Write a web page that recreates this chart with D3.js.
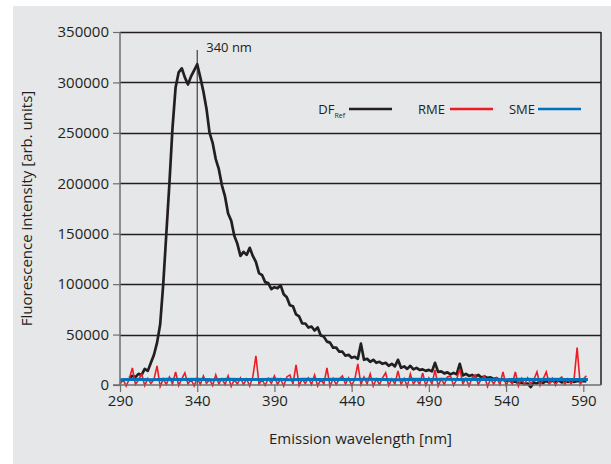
<!DOCTYPE html>
<html>
<head>
<meta charset="utf-8">
<script src="https://cdn.jsdelivr.net/npm/d3@7"></script>
<style>
  html, body { margin: 0; padding: 0; background: #fff; }
  svg text { font-family: "Open Sans", "Noto Sans", sans-serif; fill: #231f20; }
</style>
</head>
<body>
<div id="chart"></div>
<script>
// DF_Ref spectrum (black), 2 nm steps from 296 to 592
const dfWavelength = d3.range(296, 593, 2);
const dfValues = [
  7000, 9000, 8000, 11000, 10000, 16000, 14000, 22000, 30000, 42000,          // 296-314
  60000, 100000, 150000, 200000, 255000, 295000, 310000, 314000, 305000, 298000, // 316-334
  306000, 312000, 318000,                                                     // 336-340
  305000, 291000, 274000, 250000, 240000, 224000, 214000, 198000, 187000, 170000, // 342-360
  163000, 148000, 140000, 128000, 132000, 129000, 136000, 128000, 122000, 111000, // 362-380
  109000, 102000, 101000, 95000, 97000, 96000, 99000, 90000, 87000, 79000,    // 382-400
  78000, 70000, 68000, 61000, 61000, 57000, 58000, 54000, 57000, 49000,       // 402-420
  48000, 43000, 42000, 37000, 37000, 33000, 33000, 29000, 30000, 27000,       // 422-440
  28000, 26000, 41000, 25000, 26000, 23000, 25000, 22000, 23000, 21000,       // 442-460
  22000, 19000, 21000, 18500, 25000, 17000, 18500, 16000, 19000, 15500,       // 462-480
  17000, 15000, 15500, 14000, 15000, 13500, 22000, 13000, 13500, 11500,       // 482-500
  12500, 10500, 12000, 10500, 21000, 9500, 11000, 9000, 10000, 8500,          // 502-520
  10000, 7500, 8500, 7000, 7500, 6000, 6500, 5000, 5500, 4000,                // 522-540
  4500, 3000, 3500, 2000, 2500, 1000, 1500, -2000, 2500, 1500,                // 542-560
  3500, 2000, 4000, 2500, 4500, 3000, 4500, 2500, 4000, 3000,                 // 562-580
  4500, 3000, 4000, 3500, 4000, 3500                                          // 582-592
];

// RME (red), 2 nm steps from 290 to 592
const rmeWavelength = d3.range(290, 593, 2);
const rmeValues = [
  1000, 5500, -1000, 6000, 17000, 500, 5000, 11000, -500, 6500,   // 290-308
  1500, 5500, 19000, -1500, 6000, 500, 8000, 1000, 13000, -500,   // 310-328
  6000, 12000, 1000, 5500, -1000, 7000, 500, 9000, 1500, 5500,    // 330-348
  -500, 10000, 1000, 6000, 500, 9000, -1500, 5500, 1000, 7000,    // 350-368
  500, 6000, -1000, 8000, 29000, 1000, 5500, -500, 6500, 1500,    // 370-388
  9000, 500, 6000, -1000, 8000, 10000, 1000, 20000, -500, 6000,   // 390-408
  1500, 7000, 500, 10000, -1000, 5500, 1000, 17000, -1500, 6500,  // 410-428
  500, 6000, 9000, 1000, 7000, -500, 5500, 21000, 500, 8000,      // 430-448
  1000, 11000, -1000, 6000, 500, 7000, 12000, -500, 6000, 1000,   // 450-468
  14000, 500, 6500, -1500, 11000, 1000, 5500, 500, 12000, -500,   // 470-488
  7000, 1000, 15000, -1000, 6000, 500, 8000, 9000, -500, 5500,    // 490-508
  16000, 1000, 6500, -1000, 7000, 10000, 500, 6000, 9000, -1500,  // 510-528
  6000, 1000, 7000, 500, 13000, -500, 5500, 1000, 13000, -1000,   // 530-548
  6500, 500, 7000, 1000, 5500, 13000, -500, 6000, 13000, 1000,    // 550-568
  6500, -500, 5500, 8000, 500, 6000, 1000, 5500, 37000, 500,      // 570-588
  6000, 9000                                                      // 590-592
];

// SME (blue), 10 nm steps
const smeWavelength = [290, 300, 310, 320, 330, 340, 350, 360, 370, 380, 390, 400, 410, 420, 430, 440, 450,
  460, 470, 480, 490, 500, 510, 520, 530, 540, 550, 560, 570, 580, 593];
const smeValues = [5200, 5600, 5300, 5700, 5400, 5600, 5300, 5700, 5500, 5400, 5700, 5300, 5600, 5500, 5800, 5400,
  5600, 5500, 5300, 5700, 5500, 5600, 5400, 5700, 5500, 5300, 5600, 5500, 5700, 5400, 5500];

const xTicks = [290, 340, 390, 440, 490, 540, 590];
const yTicks = [0, 50000, 100000, 150000, 200000, 250000, 300000, 350000];
const legendItems = [
  { name: "DF", sub: "Ref", color: "#231f20" },
  { name: "RME", sub: "", color: "#ed1c24" },
  { name: "SME", sub: "", color: "#0072bc" }
];
const markerWavelength = 340;

const W = 611, H = 464;
const plot = { left: 120, right: 601, top: 32, bottom: 385 };

const svg = d3.select("#chart").append("svg")
  .attr("width", W).attr("height", H);

// grey panel
svg.append("rect")
  .attr("x", 13).attr("y", 6)
  .attr("width", W - 13).attr("height", H - 6)
  .attr("fill", "#e6e7e8");

const x = d3.scaleLinear()
  .domain([290, 590])
  .range([plot.left, 583.3]);
const y = d3.scaleLinear()
  .domain([0, 350000])
  .range([plot.bottom, plot.top]);

// horizontal grid
svg.append("g").selectAll("line")
  .data(yTicks.filter(d => d > 0))
  .join("line")
  .attr("x1", plot.left).attr("x2", plot.right)
  .attr("y1", d => Math.round(y(d)) + 0.5).attr("y2", d => Math.round(y(d)) + 0.5)
  .attr("stroke", "#231f20").attr("stroke-width", 1.3);

// right frame
svg.append("line")
  .attr("x1", plot.right).attr("x2", plot.right)
  .attr("y1", plot.top).attr("y2", plot.bottom)
  .attr("stroke", "#231f20").attr("stroke-width", 1.5);

// 340 nm marker
svg.append("line")
  .attr("x1", x(markerWavelength)).attr("x2", x(markerWavelength))
  .attr("y1", 50).attr("y2", plot.bottom)
  .attr("stroke", "#231f20").attr("stroke-width", 1);
svg.append("text")
  .attr("x", x(markerWavelength) + 9).attr("y", 52)
  .attr("font-size", 13)
  .text(markerWavelength + " nm");

const line = d3.line()
  .x(d => x(d[0]))
  .y(d => y(d[1]));

const dfData = dfWavelength.map((w, i) => [w, dfValues[i]]);
const rmeData = rmeWavelength.map((w, i) => [w, rmeValues[i]]);
const smeData = smeWavelength.map((w, i) => [w, smeValues[i]]);

svg.append("path").datum(dfData)
  .attr("d", line).attr("fill", "none")
  .attr("stroke", legendItems[0].color).attr("stroke-width", 2.7)
  .attr("stroke-linejoin", "round");
svg.append("path").datum(rmeData)
  .attr("d", line).attr("fill", "none")
  .attr("stroke", legendItems[1].color).attr("stroke-width", 1.6);
svg.append("path").datum(smeData)
  .attr("d", line).attr("fill", "none")
  .attr("stroke", legendItems[2].color).attr("stroke-width", 3);

// axes
const axisColor = "#6d6e71";
const yAxis = svg.append("g")
  .attr("transform", `translate(${plot.left},0)`)
  .call(d3.axisLeft(y).tickValues(yTicks).tickSize(7).tickPadding(4).tickFormat(d3.format("d")));
const xAxis = svg.append("g")
  .attr("transform", `translate(0,${plot.bottom})`)
  .call(d3.axisBottom(x).tickValues(xTicks).tickSize(7).tickPadding(3));
[yAxis, xAxis].forEach(g => {
  g.select(".domain").attr("stroke", axisColor).attr("stroke-width", 1.5);
  g.selectAll(".tick line").attr("stroke", axisColor).attr("stroke-width", 1.2);
  g.selectAll("text").attr("font-size", 15).attr("fill", "#231f20")
    .style("font-family", "'Open Sans', sans-serif");
});
yAxis.select(".domain").attr("d", `M0,${plot.top}V${plot.bottom}`);
xAxis.select(".domain").attr("d", `M${plot.left - 7},0H${plot.right}`);

// axis titles
svg.append("text")
  .attr("transform", `translate(32,${(plot.top + plot.bottom) / 2}) rotate(-90)`)
  .attr("text-anchor", "middle").attr("font-size", 15)
  .text("Fluorescence intensity [arb. units]");
svg.append("text")
  .attr("x", (plot.left + plot.right) / 2).attr("y", 444)
  .attr("text-anchor", "middle").attr("font-size", 15)
  .text("Emission wavelength [nm]");

// legend
const legendY = 109;
const legendPos = [
  { textEnd: 345, x1: 349, x2: 392 },
  { textEnd: 445, x1: 450, x2: 493 },
  { textEnd: 535, x1: 538, x2: 581 }
];
const legend = svg.append("g").selectAll("g")
  .data(legendItems)
  .join("g");
legend.append("line")
  .attr("x1", (d, i) => legendPos[i].x1).attr("x2", (d, i) => legendPos[i].x2)
  .attr("y1", legendY).attr("y2", legendY)
  .attr("stroke", d => d.color).attr("stroke-width", 2.5);
legend.append("text")
  .attr("x", (d, i) => legendPos[i].textEnd)
  .attr("y", legendY + 5)
  .attr("text-anchor", "end")
  .attr("font-size", 13)
  .each(function (d) {
    const t = d3.select(this);
    t.append("tspan").text(d.name);
    if (d.sub) t.append("tspan").attr("font-size", 7).attr("dy", 4).text(d.sub);
  });
</script>
</body>
</html>
